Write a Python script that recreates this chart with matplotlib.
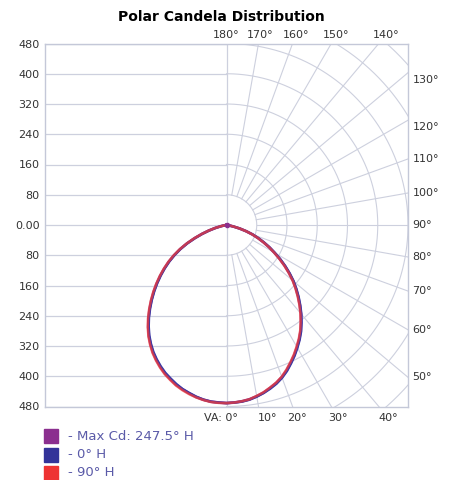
import numpy as np
import matplotlib
matplotlib.use('Agg')
import matplotlib.pyplot as plt
from matplotlib.patches import Rectangle

# vertical angles (deg), 2.5 deg steps, and candela values per horizontal plane
va = [i * 2.5 for i in range(37)]
cd_0h = [471, 470, 469, 466, 461, 455, 448, 440, 430, 418, 404, 390, 375, 360, 344, 326, 308, 289, 270,
         251, 232, 211, 190, 169, 148, 129, 110, 92, 74, 55, 37, 20, 8, 2, 0, 0, 0]
cd_90h = [471, 470, 468, 465, 459, 453, 445, 437, 427, 414, 400, 386, 371, 356, 340, 322, 304, 285, 266,
          247, 228, 207, 186, 165, 145, 126, 107, 89, 72, 54, 36, 19, 8, 2, 0, 0, 0]
cd_67h = [471, 470, 468, 465, 460, 454, 446, 438, 428, 416, 402, 388, 373, 358, 342, 324, 306, 287, 268,
          249, 230, 209, 188, 167, 146, 127, 108, 90, 73, 54, 36, 19, 8, 2, 0, 0, 0]
cd_270h = [471, 471, 470, 467, 463, 458, 452, 445, 436, 427, 416, 404, 391, 376, 360, 342, 323, 303, 283,
           263, 243, 223, 203, 183, 162, 140, 117, 93, 70, 50, 32, 17, 7, 2, 0, 0, 0]
cd_180h = [471, 470, 469, 466, 461, 455, 449, 441, 432, 423, 412, 400, 387, 372, 356, 338, 319, 299, 279,
           259, 239, 219, 199, 179, 158, 137, 114, 90, 68, 48, 31, 16, 7, 2, 0, 0, 0]
cd_247h = [471, 470, 469, 466, 462, 456, 450, 443, 434, 425, 414, 402, 389, 374, 358, 340, 321, 301, 281,
           261, 241, 221, 201, 181, 160, 138, 115, 91, 69, 49, 31, 16, 7, 2, 0, 0, 0]

y_ticks = [-480, -400, -320, -240, -160, -80, 0, 80, 160, 240, 320, 400, 480]
y_labels = ['480', '400', '320', '240', '160', '80', '0.00', '80', '160', '240', '320', '400', '480']
top_angles = [180, 170, 160, 150, 140]
right_angles = [130, 120, 110, 100, 90, 80, 70, 60, 50]
bottom_angles = [0, 10, 20, 30, 40]

grid_col = '#cdd0de'
text_col = '#333333'


def loop(left, right):
    a = np.radians(va)
    l = np.array(left)
    r = np.array(right)
    x = np.concatenate([-l[::-1] * np.sin(a[::-1]), r * np.sin(a)])
    y = np.concatenate([-l[::-1] * np.cos(a[::-1]), -r * np.cos(a)])
    return x, y


fig = plt.figure(figsize=(4.59, 4.80), dpi=100)
ax = fig.add_axes([45 / 459, 73 / 480, 363 / 459, 364 / 480])
ax.set_xlim(-480, 480)
ax.set_ylim(-480, 480)
ax.set_aspect('equal', adjustable='box')

# left half: plain horizontal lines
ax.hlines(y_ticks, -480, 0, color=grid_col, lw=0.9, zorder=1)
ax.vlines(0, -480, 480, color=grid_col, lw=0.9, zorder=1)

# right half: polar grid
t = np.linspace(-np.pi / 2, np.pi / 2, 200)
for r in range(80, 800, 80):
    ax.plot(r * np.cos(t), r * np.sin(t), color=grid_col, lw=0.8, zorder=1)
for ang in range(10, 180, 10):
    a = np.radians(ang)
    ax.plot([80 * np.sin(a), 900 * np.sin(a)], [-80 * np.cos(a), -900 * np.cos(a)],
            color=grid_col, lw=0.8, zorder=1)

# candela curves
x, y = loop(cd_247h, cd_67h)
ax.plot(x, y, color='#8b2f8f', lw=2, zorder=3, solid_joinstyle='round')
ax.plot(0, 0, 'o', color='#8b2f8f', ms=3, zorder=6)
x, y = loop(cd_180h, cd_0h)
ax.plot(x, y, color='#3a3aa6', lw=1.8, zorder=4, solid_joinstyle='round')
x, y = loop(cd_270h, cd_90h)
ax.plot(x, y, color='#f03a3a', lw=1.8, alpha=0.75, zorder=5, solid_joinstyle='round')

ax.set_xticks([])
ax.set_yticks(y_ticks)
ax.set_yticklabels(y_labels)
ax.tick_params(axis='y', length=0, pad=4, labelsize=8, labelcolor=text_col)
for s in ax.spines.values():
    s.set_color('#c4c8d8')
    s.set_linewidth(1)

# angle labels around the frame
for ang in top_angles:
    xx = 502 * np.tan(np.radians(180 - ang))
    ax.text(xx, 502, f'{ang}°', ha='center', va='center', fontsize=8, color=text_col, clip_on=False)
for ang in right_angles:
    yy = 480 * np.tan(np.radians(ang - 90))
    if ang >= 120:
        yy -= 18
    ax.text(492, yy, f'{ang}°', ha='left', va='center', fontsize=8, color=text_col, clip_on=False)
for ang in bottom_angles:
    xx = 511 * np.tan(np.radians(ang))
    if ang == 0:
        ax.text(30, -511, 'VA: 0°', ha='right', va='center', fontsize=8, color=text_col, clip_on=False)
    else:
        if ang == 10:
            xx += 18
        ax.text(xx, -511, f'{ang}°', ha='center', va='center', fontsize=8, color=text_col, clip_on=False)

fig.text(221 / 459, 1 - 17 / 480, 'Polar Candela Distribution', ha='center', va='center',
         fontsize=10, fontweight='bold', color='black')

# legend
leg = [('#8b2f8f', '- Max Cd: 247.5° H'), ('#333399', '- 0° H'), ('#ee3333', '- 90° H')]
for i, (c, lab) in enumerate(leg):
    yc = 436 + i * 18.5
    fig.patches.append(Rectangle((44 / 459, 1 - (yc + 7) / 480), 14 / 459, 14 / 480,
                                 transform=fig.transFigure, color=c, figure=fig))
    fig.text(68 / 459, 1 - yc / 480, lab, ha='left', va='center', fontsize=9.5, color='#5a5aa8')

fig.savefig('out.png', dpi=100)
